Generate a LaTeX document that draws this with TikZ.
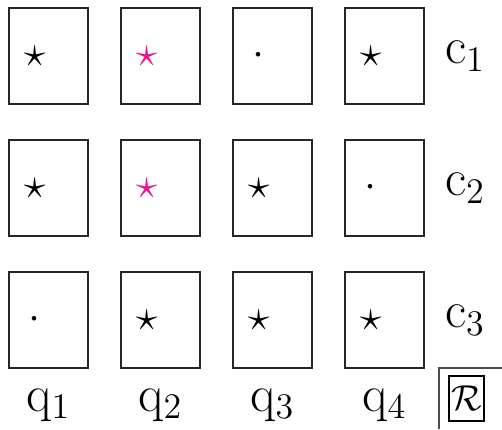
\documentclass[tikz,border=0pt]{standalone}
\usepackage{amsmath, amssymb}
\usepackage{xcolor}
\usepackage{tikz}
\usetikzlibrary{positioning, calc}

\definecolor{pinkstar}{RGB}{235,20,140}

\begin{document}
\begin{tikzpicture}[
    x=0.4pt, y=-0.4pt,
    cell/.style={draw=black!85, line width=0.7pt, rectangle,
                 minimum width=31.6pt, minimum height=38.4pt, inner sep=0pt},
    sym/.style={inner sep=0pt, font=\LARGE},
    lab/.style={inner sep=0pt, font=\huge}
  ]
  \useasboundingbox (0,0) rectangle (502,429);
  % Cells
  \foreach \r in {1,2,3} {
    \foreach \c in {1,...,4} {
      \node[cell] (b\r\c) at ({48.5+112*(\c-1)}, {56+132*(\r-1)}) {};
    }
    \node[lab] (c\r) at (465, {56+132*(\r-1)}) {$\mathrm{c}_{\r}$};
  }
  % Entries
  \foreach \r/\c/\s in {1/1/\star, 1/2/{\color{pinkstar}\star}, 1/3/\cdot, 1/4/\star,
                        2/1/\star, 2/2/{\color{pinkstar}\star}, 2/3/\star, 2/4/\cdot,
                        3/1/\cdot, 3/2/\star, 3/3/\star, 3/4/\star} {
    \node[sym] (s\r\c) at ([xshift=10.6pt]b\r\c.west) {$\s$};
  }
  % Column labels
  \foreach \c in {1,...,4} {
    \node[lab] (q\c) at ({48.5+112*(\c-1)}, 405) {$\mathrm{q}_{\c}$};
  }
  % Corner frame
  \node[draw, line width=0.6pt, minimum width=14pt, minimum height=18pt,
        inner sep=0pt, font=\Large] (R) at (466.5, 398.5) {$\mathcal{R}$};
  \coordinate (fb) at (439, 429);
  \coordinate (fc) at (439, 368);
  \coordinate (fr) at (502, 368);
  \draw[black!70, line width=0.5pt] (fb) -- (fc) -- (fr);
\end{tikzpicture}
\end{document}
